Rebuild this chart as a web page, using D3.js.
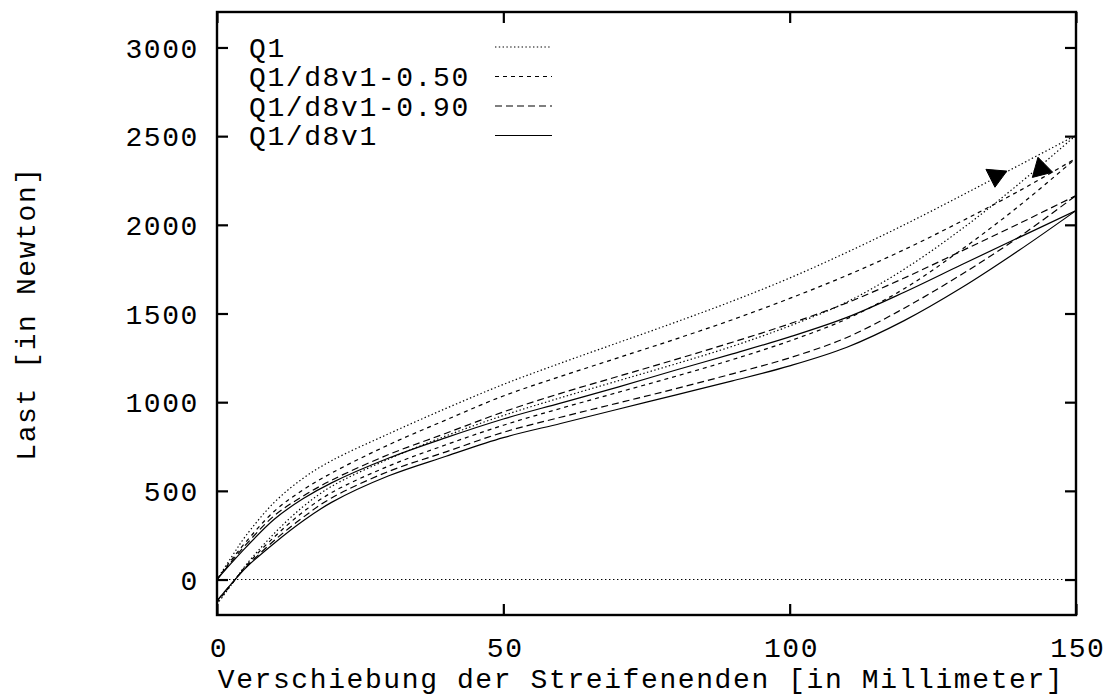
<!DOCTYPE html>
<html>
<head>
<meta charset="utf-8">
<script src="https://cdn.jsdelivr.net/npm/d3@7"></script>
<style>
  html, body { margin: 0; padding: 0; background: #fff; }
  svg { display: block; }
  text { font-family: "Liberation Mono", "DejaVu Sans Mono", monospace; font-size: 28px; letter-spacing: 1.6px; fill: #000; }
</style>
</head>
<body>
<svg id="chart" width="1108" height="695"></svg>
<script>
// ---------- data ----------
const xValues = [0, 2.5, 5, 10, 15, 20, 30, 40, 50, 60, 70, 80, 90, 100, 110, 120, 130, 140, 150];

// unloading branches (start at 0)
const q1Upper     = [0, 125, 245, 435, 570, 670, 822, 965, 1100, 1220, 1335, 1450, 1570, 1700, 1845, 2000, 2165, 2335, 2505];
const d50Upper    = [0, 110, 210, 385, 505, 600, 760, 900, 1035, 1145, 1250, 1355, 1465, 1585, 1715, 1860, 2020, 2190, 2375];
const d90Upper    = [0, 100, 195, 360, 470, 560, 705, 825, 945, 1050, 1145, 1240, 1338, 1442, 1560, 1700, 1852, 2006, 2165];
const d8v1Upper   = [0, 92, 180, 340, 455, 545, 685, 800, 905, 995, 1085, 1180, 1272, 1368, 1478, 1620, 1775, 1928, 2080];

// loading branches (start below 0)
const q1Lower     = [-140, -30, 80, 260, 410, 525, 680, 810, 925, 1025, 1120, 1215, 1315, 1430, 1565, 1750, 1975, 2230, 2505];
const d50Lower    = [-130, -28, 75, 240, 380, 490, 640, 760, 870, 965, 1055, 1145, 1240, 1345, 1470, 1640, 1860, 2105, 2375];
const d90Lower    = [-120, -25, 68, 220, 350, 460, 610, 720, 830, 915, 995, 1075, 1160, 1250, 1365, 1530, 1720, 1930, 2165];
const d8v1Lower   = [-120, -25, 65, 205, 330, 435, 585, 695, 800, 880, 960, 1040, 1120, 1205, 1310, 1460, 1645, 1855, 2080];

const seriesNames = ["Q1", "Q1/d8v1-0.50", "Q1/d8v1-0.90", "Q1/d8v1"];
const seriesDash  = ["1.4,2.4", "4,4", "7,4", null];

const xTicks = [0, 50, 100, 150];
const yTicks = [0, 500, 1000, 1500, 2000, 2500, 3000];

// direction arrows: tail -> head in data units
const arrowTailX = [136.1, 144.15];
const arrowTailY = [2308, 2282];
const arrowHeadX = [135.85, 143.36];
const arrowHeadY = [2212, 2381];

const xLabel = "Verschiebung der Streifenenden [in Millimeter]";
const yLabel = "Last [in Newton]";

// ---------- layout ----------
const svg = d3.select("#chart");
const mLeft = 217, mRight = 1076, mTop = 12, mBottom = 615;

const x = d3.scaleLinear().domain([0, 150]).range([mLeft, mRight]);
const y = d3.scaleLinear().domain([-200, 3200]).range([mBottom, mTop]);

svg.append("defs").append("clipPath").attr("id", "clip")
  .append("rect").attr("x", mLeft).attr("y", mTop).attr("width", mRight - mLeft).attr("height", mBottom - mTop);

const plot = svg.append("g").attr("clip-path", "url(#clip)");

// zero line
plot.append("line")
  .attr("x1", x(0)).attr("x2", x(150)).attr("y1", y(0)).attr("y2", y(0))
  .attr("stroke", "#000").attr("stroke-width", 1.1).attr("stroke-dasharray", "1.4,2.6");

const groups = [
  [q1Upper, q1Lower],
  [d50Upper, d50Lower],
  [d90Upper, d90Lower],
  [d8v1Upper, d8v1Lower]
];

const line = d3.line()
  .x(d => x(d[0])).y(d => y(d[1]))
  .curve(d3.curveCatmullRom.alpha(0.5));

groups.forEach((pair, i) => {
  pair.forEach(vals => {
    const pts = xValues.map((xv, k) => [xv, vals[k]]);
    plot.append("path")
      .attr("d", line(pts))
      .attr("fill", "none")
      .attr("stroke", "#000")
      .attr("stroke-width", 1.2)
      .attr("stroke-dasharray", seriesDash[i]);
  });
});

// arrow heads
arrowHeadX.forEach((hx, i) => {
  const tx = x(arrowTailX[i]), ty = y(arrowTailY[i]);
  const px = x(hx), py = y(arrowHeadY[i]);
  const dx = px - tx, dy = py - ty;
  const len = Math.hypot(dx, dy);
  const nx = -dy / len, ny = dx / len;
  const hw = 10.5;
  const pts = [[px, py], [tx + nx * hw, ty + ny * hw], [tx - nx * hw, ty - ny * hw]];
  svg.append("path")
    .attr("d", "M" + pts.map(p => p.join(",")).join("L") + "Z")
    .attr("fill", "#000").attr("stroke", "#000").attr("stroke-width", 1);
});

// frame
svg.append("rect")
  .attr("x", mLeft).attr("y", mTop).attr("width", mRight - mLeft).attr("height", mBottom - mTop)
  .attr("fill", "none").attr("stroke", "#000").attr("stroke-width", 2.4);

// ticks (inward, mirrored)
const tickLen = 11;
const axisL = d3.axisLeft(y).tickValues(yTicks).tickSize(-tickLen).tickFormat(d3.format("d"));
const axisR = d3.axisRight(y).tickValues(yTicks).tickSize(-tickLen).tickFormat("");
const axisB = d3.axisBottom(x).tickValues(xTicks).tickSize(-tickLen).tickFormat(d3.format("d"));
const axisT = d3.axisTop(x).tickValues(xTicks).tickSize(-tickLen).tickFormat("");

function styleAxis(g) {
  g.attr("font-family", null).attr("font-size", null);
  g.select(".domain").remove();
  g.selectAll(".tick line").attr("stroke", "#000").attr("stroke-width", 2.2);
  g.selectAll(".tick text").style("fill", "#000");
}

svg.append("g").attr("transform", `translate(${mLeft},0)`).call(axisL).call(styleAxis)
  .selectAll(".tick text").attr("x", -18).attr("dy", "0.34em");
svg.append("g").attr("transform", `translate(${mRight},0)`).call(axisR).call(styleAxis);
svg.append("g").attr("transform", `translate(0,${mBottom})`).call(axisB).call(styleAxis)
  .selectAll(".tick text").attr("y", 42).attr("dy", 0).attr("dx", "0.05em");
svg.append("g").attr("transform", `translate(0,${mTop})`).call(axisT).call(styleAxis);

// axis labels
svg.append("text")
  .attr("x", 641).attr("y", 688)
  .attr("text-anchor", "middle")
  .text(xLabel);

svg.append("text")
  .attr("transform", `translate(35, ${(mTop + mBottom) / 2}) rotate(-90)`)
  .attr("text-anchor", "middle")
  .text(yLabel);

// legend
const legend = svg.append("g");
seriesNames.forEach((name, i) => {
  const cy = 47 + i * 29.5;
  legend.append("text")
    .attr("x", 249).attr("y", cy + 9.5)
    .text(name);
  legend.append("line")
    .attr("x1", 495).attr("x2", 552).attr("y1", cy).attr("y2", cy)
    .attr("stroke", "#000").attr("stroke-width", 1.2)
    .attr("stroke-dasharray", seriesDash[i]);
});
</script>
</body>
</html>
